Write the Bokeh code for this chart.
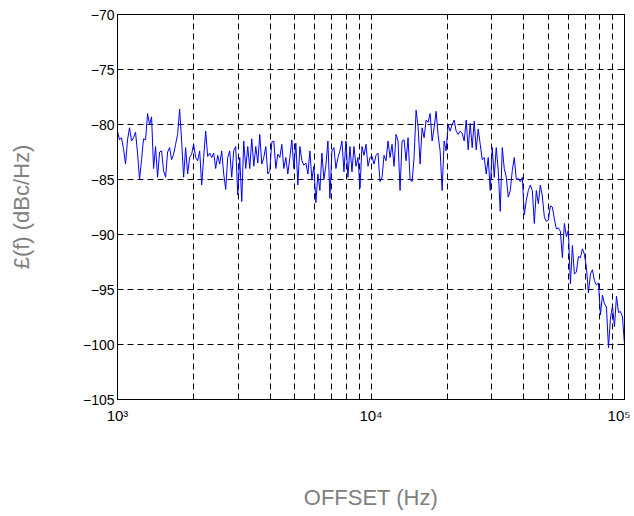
import numpy as np
from bokeh.plotting import figure
from bokeh.models import (LogAxis, LinearAxis, FixedTicker, SingleIntervalTicker,
                          Range1d, ColumnDataSource)
from bokeh.embed import file_html
from bokeh.resources import INLINE

# ---- data ----
seg1 = [-80.6, -81.4, -81.2, -82.2, -83.6, -81.4, -80.3, -81.5, -81.2, -80.7,
        -82.6, -85.0, -83.2, -81.3, -81.4, -79.0, -80.0, -79.3, -84.0, -82.0,
        -84.8, -82.5, -82.4, -84.2, -84.8, -82.5, -82.1, -83.2, -82.7, -81.8,
        -80.9, -78.6, -81.5, -84.8, -82.1, -84.5, -83.0, -82.7, -81.8, -83.0,
        -83.3, -82.4]
seg2 = [-85.5, -83.0, -80.6, -82.9, -82.6, -83.0, -82.6, -84.0, -82.8, -83.6,
        -82.4, -84.5, -85.9, -83.0, -82.4, -84.8, -82.4, -82.0, -86.4, -83.0,
        -87.0, -81.5, -84.0, -82.0, -84.0, -81.3, -83.8, -82.0, -83.5, -80.9,
        -83.6, -83.0, -82.0, -84.5, -84.2, -81.6, -81.5, -84.0, -82.7, -83.0,
        -81.8, -84.0]
seg3 = [-83.0, -84.5, -83.0, -81.4, -84.0, -81.7, -85.5, -82.0, -83.3, -83.7,
        -83.5, -84.5, -82.4, -85.0, -83.8, -87.1, -84.5, -86.0, -82.6, -85.0,
        -83.7, -81.5, -86.7, -82.4, -82.1, -84.0, -83.0, -82.4, -81.5, -84.3,
        -81.5, -84.8, -82.0, -84.3, -82.0, -83.8, -83.0, -85.8, -82.0, -82.8,
        -81.8, -83.8, -83.0]
seg4 = [-82.9, -83.6, -82.8, -82.6, -85.2, -84.8, -82.8, -83.3, -81.5, -83.0,
        -81.8, -83.8, -80.9, -81.5, -86.0, -81.5, -81.4, -83.3, -81.2, -85.0,
        -85.2, -83.0, -78.7, -80.2, -83.6, -80.3, -81.2, -79.6, -79.8, -79.0,
        -81.5, -80.3, -78.8, -81.0, -82.4, -86.0, -81.5, -82.4, -80.0, -80.6,
        -80.0, -79.6]
seg5 = [-80.6, -80.9, -80.6, -80.8, -81.5, -79.6, -82.3, -79.9, -82.1, -79.7,
        -82.3, -80.4, -81.8, -83.2, -83.0, -84.5, -83.0, -86.0, -82.1, -84.8,
        -82.1, -84.2, -87.9, -82.1, -84.0, -84.8, -86.6, -86.0, -84.2, -83.0,
        -85.0, -84.9, -85.2, -84.8, -88.2, -86.9, -86.0, -85.5, -86.0, -89.0,
        -86.0, -87.2, -85.5]
seg6 = [-86.5, -88.4, -88.8, -88.7, -87.4, -87.5, -88.6, -89.5, -89.4, -89.7,
        -92.1, -89.0, -90.2, -89.6, -94.5, -91.0, -93.6, -93.4, -92.0, -92.1,
        -91.3, -91.8, -93.0, -95.3, -93.6, -93.2, -94.2, -94.6, -94.4, -97.3,
        -95.5, -96.3, -96.6, -100.3, -97.6, -96.5, -98.4, -95.6, -97.1, -97.0,
        -97.5, -100.0]

noise_dbc = seg1 + seg2 + seg3 + seg4 + seg5 + seg6
# sweep: points evenly spaced on the log frequency axis, 1 kHz .. 100 kHz
offset_hz = np.logspace(3, 5, len(noise_dbc))

x_major = [1e3, 1e4, 1e5]
x_minor = [m * d for d in (1e3, 1e4) for m in range(2, 10)]
x_labels = {1000: "10\u00b3", 10000: "10\u2074", 100000: "10\u2075"}
y_start, y_end, y_step = -105, -70, 5

FONT = "Liberation Sans"

src = ColumnDataSource(dict(f=offset_hz, l=noise_dbc))

p = figure(width=630, height=512, x_axis_type="log",
           x_range=Range1d(x_major[0], x_major[-1]),
           y_range=Range1d(y_start, y_end),
           output_backend="svg", toolbar_location=None,
           min_border_left=117, min_border_right=6,
           min_border_top=14, min_border_bottom=4)
p.background_fill_color = "white"
p.border_fill_color = "white"
p.outline_line_color = "black"
p.outline_line_width = 1
p.outline_line_alpha = 1

xt = FixedTicker(ticks=x_major, minor_ticks=x_minor)
yt = SingleIntervalTicker(interval=y_step, num_minor_ticks=0)

p.xaxis.ticker = xt
p.yaxis.ticker = yt
p.xgrid.ticker = xt
p.ygrid.ticker = yt

for g in (p.xgrid, p.ygrid):
    g.grid_line_color = "black"
    g.grid_line_dash = "6 4"
    g.grid_line_width = 1
p.xgrid.minor_grid_line_color = "black"
p.xgrid.minor_grid_line_dash = "6 4"
p.xgrid.minor_grid_line_width = 1

def style_axis(ax):
    ax.axis_line_color = "black"
    ax.major_tick_in = 5
    ax.major_tick_out = 0
    ax.minor_tick_in = 5
    ax.minor_tick_out = 0
    ax.major_tick_line_color = "black"
    ax.minor_tick_line_color = "black"
    ax.major_label_text_font = FONT
    ax.major_label_text_font_size = "14px"
    ax.major_label_text_color = "black"

style_axis(p.xaxis[0])
style_axis(p.yaxis[0])
p.xaxis.major_label_overrides = x_labels
p.xaxis.major_label_text_font_size = "15px"
p.xaxis.major_label_standoff = 7
p.yaxis.major_label_standoff = 3

p.xaxis.axis_label = "OFFSET (Hz)"
p.yaxis.axis_label = "\u00a3(f) (dBc/Hz)"
for ax in (p.xaxis[0], p.yaxis[0]):
    ax.axis_label_text_font = FONT
    ax.axis_label_text_font_size = "22px"
    ax.axis_label_text_font_style = "normal"
    ax.axis_label_text_color = "#808080"
p.xaxis.axis_label_standoff = 58
p.yaxis.axis_label_standoff = 46

top = LogAxis(ticker=xt)
right = LinearAxis(ticker=yt)
for ax in (top, right):
    style_axis(ax)
    ax.major_label_text_font_size = "0px"
    ax.major_label_text_color = None
    ax.major_label_standoff = 0
p.add_layout(top, "above")
p.add_layout(right, "right")

p.line("f", "l", source=src, line_color="#0000ff", line_width=1)

open("out.html", "w").write(file_html(p, INLINE))
